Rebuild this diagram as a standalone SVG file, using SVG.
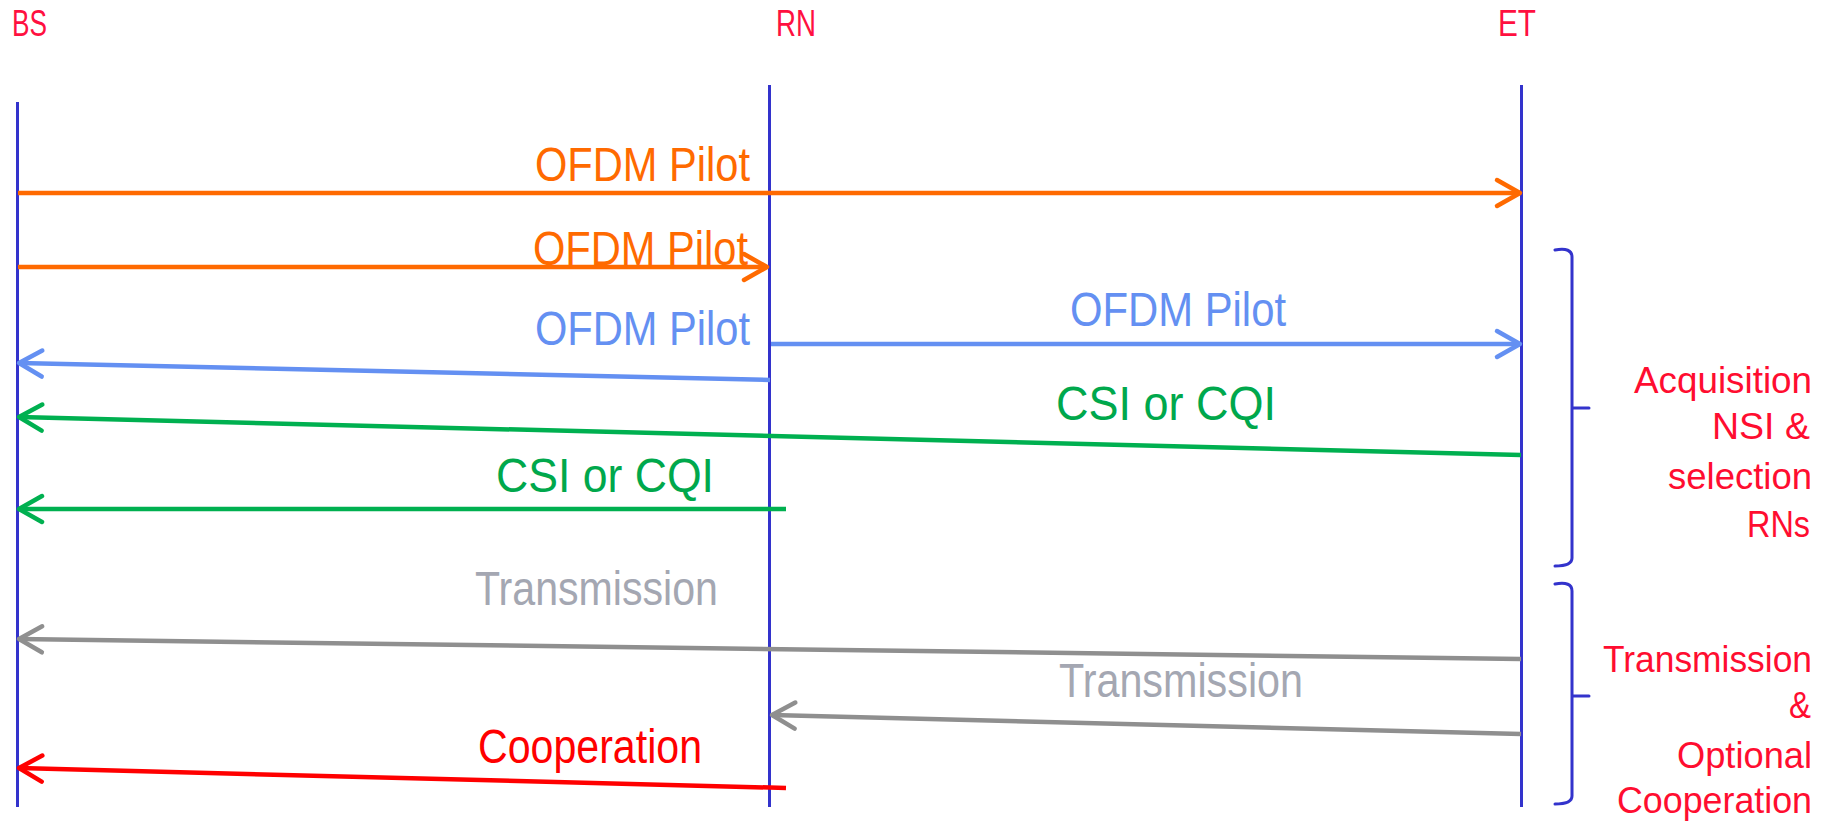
<svg xmlns="http://www.w3.org/2000/svg" width="1826" height="822" viewBox="0 0 1826 822">
<style>
  text { font-family: "Liberation Sans", "DejaVu Sans", sans-serif; }
  .head { font-size: 36px; fill: #ff1040; }
  .lbl { font-size: 48px; }
  .side { font-size: 37px; fill: #ff0d30; }
  .life { stroke: #3333cc; stroke-width: 3; fill: none; }
  .brace { stroke: #3333cc; stroke-width: 3; fill: none; stroke-linecap: round; stroke-linejoin: round; }
  .msg { stroke-width: 4.5; fill: none; stroke-linecap: butt; }
  .orange { stroke: #ff6a00; } .orangeT { fill: #ff6a00; }
  .blue { stroke: #6490f2; } .blueT { fill: #6490f2; }
  .green { stroke: #00b050; } .greenT { fill: #00a84c; }
  .gray { stroke: #8f8f8f; } .grayT { fill: #a4a7b2; }
  .red { stroke: #ff0000; } .redT { fill: #ff0000; }
</style>
<defs>
  <marker id="ah-orange" markerUnits="userSpaceOnUse" markerWidth="40" markerHeight="40" viewBox="-30 -20 40 40" refX="0" refY="0" orient="auto">
    <path d="M-23,-13 L0,0 L-23,13" fill="none" stroke="#ff6a00" stroke-width="4.5" stroke-linecap="round" stroke-linejoin="round"/>
  </marker>
  <marker id="ah-blue" markerUnits="userSpaceOnUse" markerWidth="40" markerHeight="40" viewBox="-30 -20 40 40" refX="0" refY="0" orient="auto">
    <path d="M-23,-13 L0,0 L-23,13" fill="none" stroke="#6490f2" stroke-width="4.5" stroke-linecap="round" stroke-linejoin="round"/>
  </marker>
  <marker id="ah-green" markerUnits="userSpaceOnUse" markerWidth="40" markerHeight="40" viewBox="-30 -20 40 40" refX="0" refY="0" orient="auto">
    <path d="M-23,-13 L0,0 L-23,13" fill="none" stroke="#00b050" stroke-width="4.5" stroke-linecap="round" stroke-linejoin="round"/>
  </marker>
  <marker id="ah-gray" markerUnits="userSpaceOnUse" markerWidth="40" markerHeight="40" viewBox="-30 -20 40 40" refX="0" refY="0" orient="auto">
    <path d="M-23,-13 L0,0 L-23,13" fill="none" stroke="#8f8f8f" stroke-width="4.5" stroke-linecap="round" stroke-linejoin="round"/>
  </marker>
  <marker id="ah-red" markerUnits="userSpaceOnUse" markerWidth="40" markerHeight="40" viewBox="-30 -20 40 40" refX="0" refY="0" orient="auto">
    <path d="M-23,-13 L0,0 L-23,13" fill="none" stroke="#ff0000" stroke-width="4.5" stroke-linecap="round" stroke-linejoin="round"/>
  </marker>
</defs>
<rect width="1826" height="822" fill="#ffffff"/>

<g id="node-BS">
  <line class="life" x1="17.5" y1="102" x2="17.5" y2="807"/>
  <text class="head" x="12" y="36" textLength="35" lengthAdjust="spacingAndGlyphs">BS</text>
</g>
<g id="node-RN">
  <line class="life" x1="769.5" y1="85" x2="769.5" y2="807"/>
  <text class="head" x="776" y="36" textLength="40" lengthAdjust="spacingAndGlyphs">RN</text>
</g>
<g id="node-ET">
  <line class="life" x1="1521.5" y1="85" x2="1521.5" y2="807"/>
  <text class="head" x="1498" y="36" textLength="38" lengthAdjust="spacingAndGlyphs">ET</text>
</g>

<g id="connectors">
  <g id="msg1">
    <line class="msg orange" x1="18" y1="193" x2="1520" y2="193" marker-end="url(#ah-orange)"/>
    <text class="lbl orangeT" x="535" y="181" textLength="215" lengthAdjust="spacingAndGlyphs">OFDM Pilot</text>
  </g>
  <g id="msg2">
    <line class="msg orange" x1="18" y1="267" x2="767" y2="267" marker-end="url(#ah-orange)"/>
    <text class="lbl orangeT" x="533" y="265" textLength="215" lengthAdjust="spacingAndGlyphs">OFDM Pilot</text>
  </g>
  <g id="msg3">
    <line class="msg blue" x1="770" y1="380" x2="19" y2="363" marker-end="url(#ah-blue)"/>
    <text class="lbl blueT" x="535" y="345" textLength="215" lengthAdjust="spacingAndGlyphs">OFDM Pilot</text>
  </g>
  <g id="msg4">
    <line class="msg blue" x1="771" y1="344" x2="1520" y2="344" marker-end="url(#ah-blue)"/>
    <text class="lbl blueT" x="1070" y="326" textLength="216" lengthAdjust="spacingAndGlyphs">OFDM Pilot</text>
  </g>
  <g id="msg5">
    <line class="msg green" x1="1521" y1="455" x2="19" y2="417" marker-end="url(#ah-green)"/>
    <text class="lbl greenT" x="1056" y="420" textLength="220" lengthAdjust="spacingAndGlyphs">CSI or CQI</text>
  </g>
  <g id="msg6">
    <line class="msg green" x1="786" y1="509" x2="19" y2="509" marker-end="url(#ah-green)"/>
    <text class="lbl greenT" x="496" y="492" textLength="218" lengthAdjust="spacingAndGlyphs">CSI or CQI</text>
  </g>
  <g id="msg7">
    <line class="msg gray" x1="1521" y1="659" x2="19" y2="639" marker-end="url(#ah-gray)"/>
    <text class="lbl grayT" x="475" y="605" textLength="243" lengthAdjust="spacingAndGlyphs">Transmission</text>
  </g>
  <g id="msg8">
    <line class="msg gray" x1="1521" y1="734" x2="772" y2="715" marker-end="url(#ah-gray)"/>
    <text class="lbl grayT" x="1059" y="697" textLength="244" lengthAdjust="spacingAndGlyphs">Transmission</text>
  </g>
  <g id="msg9">
    <line class="msg red" x1="786" y1="788" x2="19" y2="768" marker-end="url(#ah-red)"/>
    <text class="lbl redT" x="478" y="763" textLength="224" lengthAdjust="spacingAndGlyphs">Cooperation</text>
  </g>
</g>

<g id="phase-acquisition">
  <path class="brace" d="M1555,250 Q1572,247 1572,257 V558 Q1572,566 1555,566 M1572,408 H1589"/>
  <text class="side" x="1634" y="393" textLength="178" lengthAdjust="spacingAndGlyphs">Acquisition</text>
  <text class="side" x="1712" y="439" textLength="98" lengthAdjust="spacingAndGlyphs">NSI &amp;</text>
  <text class="side" x="1668" y="489" textLength="144" lengthAdjust="spacingAndGlyphs">selection</text>
  <text class="side" x="1747" y="537" textLength="63" lengthAdjust="spacingAndGlyphs">RNs</text>
</g>
<g id="phase-transmission">
  <path class="brace" d="M1555,584 Q1572,581 1572,591 V796 Q1572,804 1555,804 M1572,696 H1589"/>
  <text class="side" x="1603" y="672" textLength="209" lengthAdjust="spacingAndGlyphs">Transmission</text>
  <text class="side" x="1789" y="718" textLength="22" lengthAdjust="spacingAndGlyphs">&amp;</text>
  <text class="side" x="1677" y="768" textLength="135" lengthAdjust="spacingAndGlyphs">Optional</text>
  <text class="side" x="1617" y="813" textLength="195" lengthAdjust="spacingAndGlyphs">Cooperation</text>
</g>
</svg>
